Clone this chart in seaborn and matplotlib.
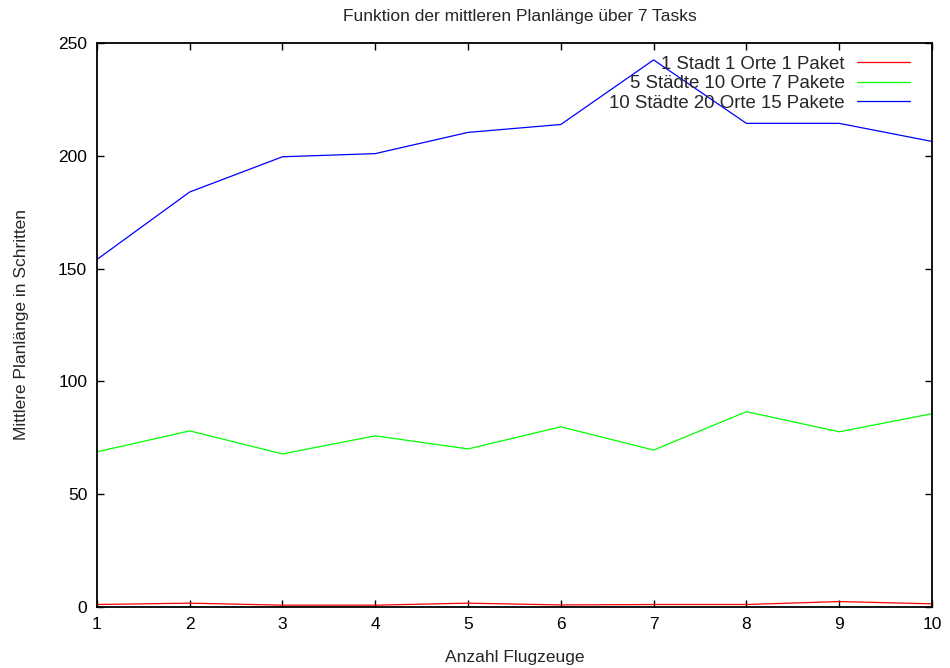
import matplotlib
matplotlib.use("Agg")
import matplotlib.pyplot as plt
import seaborn as sns
import pandas as pd

flugzeuge = [1, 2, 3, 4, 5, 6, 7, 8, 9, 10]
serie_klein = [1.2, 1.8, 0.9, 0.9, 1.8, 1.0, 1.2, 1.2, 2.5, 1.5]
serie_mittel = [68.8, 78.1, 67.9, 75.9, 70.1, 79.9, 69.6, 86.6, 77.7, 85.7]
serie_gross = [154.0, 183.9, 199.5, 200.9, 210.3, 213.8, 242.4, 214.3, 214.3, 206.3]
namen = ["1 Stadt 1 Orte 1 Paket", "5 Städte 10 Orte 7 Pakete", "10 Städte 20 Orte 15 Pakete"]
farben = ["#ff0000", "#00ff00", "#0000ff"]

df = pd.concat([
    pd.DataFrame({"x": flugzeuge, "y": vals, "serie": name})
    for name, vals in zip(namen, [serie_klein, serie_mittel, serie_gross])
])

sns.set_theme(style="ticks")
plt.rcParams['font.family'] = ['Liberation Sans', 'DejaVu Sans']

fs = 12.5
lfs = 13.4
fig = plt.figure(figsize=(9.5, 6.68), dpi=100)
ax = fig.add_axes([0.102, 0.091, 0.879, 0.845])
sns.lineplot(data=df, x="x", y="y", hue="serie", palette=dict(zip(namen, farben)),
             hue_order=namen, linewidth=0.9, ax=ax)

ax.set_xlim(1, 10)
ax.set_ylim(0, 250)
ax.set_xticks(flugzeuge)
ax.set_yticks([0, 50, 100, 150, 200, 250])
ax.tick_params(direction="in", top=True, right=True, length=5, width=1, labelsize=fs, colors="black", pad=7)
for s in ax.spines.values():
    s.set_visible(True)
    s.set_linewidth(1.3)
    s.set_color("black")
ax.set_xlabel("Anzahl Flugzeuge", fontsize=fs, labelpad=13)
ax.set_ylabel("Mittlere Planlänge in Schritten", fontsize=fs, labelpad=21)
fig.text(0.547, 0.976, "Funktion der mittleren Planlänge über 7 Tasks", ha="center", va="center", fontsize=fs)

leg = ax.legend(loc="upper right", frameon=False, markerfirst=False, fontsize=lfs,
                handlelength=2.85, handletextpad=0.65, labelspacing=0.13, borderaxespad=0.0,
                borderpad=0.7, bbox_to_anchor=(0.989, 1.0))

fig.savefig("out.png", dpi=100)
